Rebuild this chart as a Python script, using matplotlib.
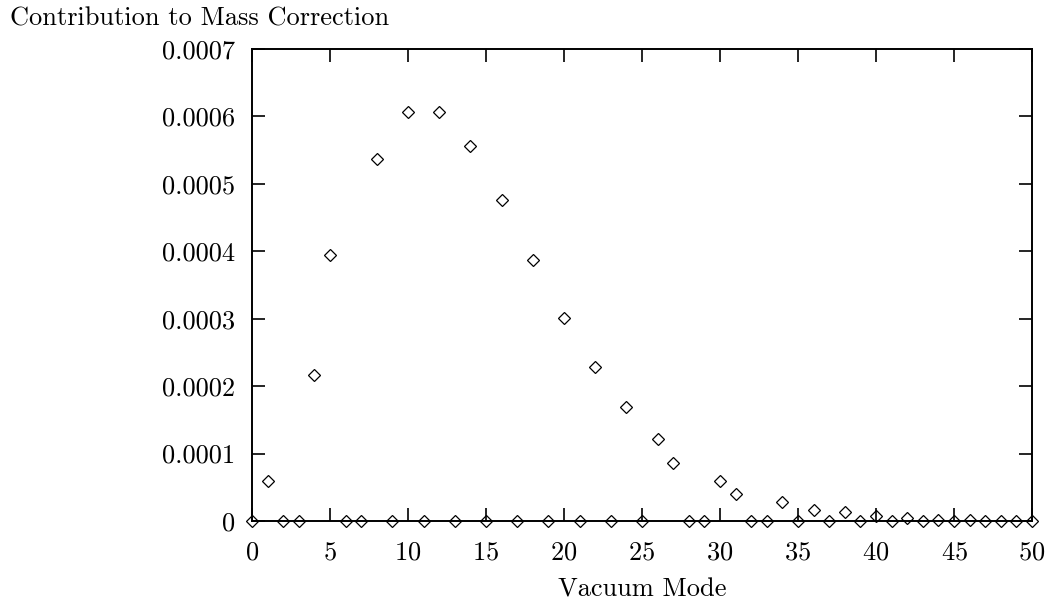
import matplotlib
matplotlib.use("Agg")
import matplotlib.pyplot as plt
from matplotlib.ticker import FuncFormatter

plt.rcParams['font.family'] = 'serif'
plt.rcParams['font.serif'] = ['cmr10']
plt.rcParams['axes.formatter.use_mathtext'] = True

modes = list(range(51))
contribution = [
    0.0, 0.000059, 0.0, 0.0, 0.000216, 0.000395, 0.0, 0.0, 0.000537, 0.0,
    0.000606, 0.0, 0.000606, 0.0, 0.000556, 0.0, 0.000476, 0.0, 0.000387, 0.0,
    0.000301, 0.0, 0.000228, 0.0, 0.000169, 0.0, 0.000122, 0.000086, 0.0, 0.0,
    0.000059, 0.000040, 0.0, 0.0, 0.000028, 0.0, 0.000017, 0.0, 0.000013, 0.0,
    0.000007, 0.0, 0.000004, 0.0, 0.000002, 0.0, 0.000001, 0.0, 0.0, 0.0,
    0.0,
]

fs = 19

fig = plt.figure(figsize=(10.5, 6.04), dpi=100)
ax = fig.add_axes([0.24, 0.1374, 0.7429, 0.7815])

ax.plot(modes, contribution, linestyle='none', marker='D', markersize=6.3,
        markerfacecolor='none', markeredgecolor='black', markeredgewidth=0.9,
        clip_on=False, zorder=3)

ax.set_xlim(0, 50)
ax.set_ylim(0, 0.0007)
ax.set_xticks(range(0, 51, 5))
ax.set_yticks([i * 0.0001 for i in range(8)])
ax.yaxis.set_major_formatter(FuncFormatter(lambda v, p: '0' if abs(v) < 1e-12 else '%.4f' % v))

for s in ax.spines.values():
    s.set_linewidth(1.4)
ax.tick_params(direction='in', length=9.5, width=1.2, top=True, right=True,
               labelsize=fs)
ax.tick_params(axis='x', pad=14)
ax.tick_params(axis='y', pad=12.2)

ax.set_xlabel('Vacuum Mode', fontsize=fs, labelpad=10)
fig.text(10 / 1050, 1 - 26 / 604, 'Contribution to Mass Correction',
         fontsize=fs, ha='left', va='baseline')

fig.savefig('out.png', dpi=100)
